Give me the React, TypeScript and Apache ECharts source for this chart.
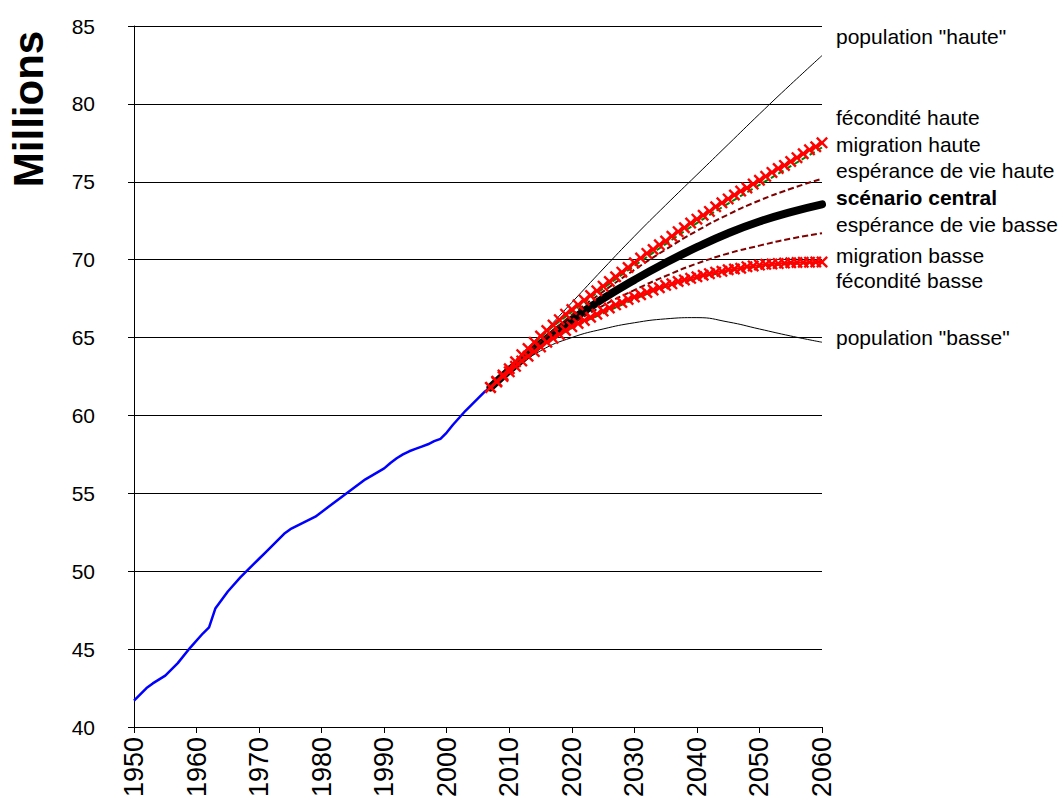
import React, { useEffect, useRef } from "react";
import * as echarts from "echarts";

// Historical population (millions), [year, value]
const historique: [number, number][] = [
  [1950, 41.7], [1952, 42.5], [1953, 42.8], [1955, 43.3], [1957, 44.1], [1959, 45.1],
  [1961, 46.0], [1962, 46.4], [1963, 47.6], [1965, 48.7], [1967, 49.6], [1968, 50.0],
  [1970, 50.8], [1971, 51.2], [1973, 52.0], [1974, 52.4], [1975, 52.7], [1977, 53.1],
  [1979, 53.5], [1981, 54.1], [1984, 55.0], [1987, 55.9], [1990, 56.6], [1991, 56.95],
  [1992, 57.25], [1993, 57.5], [1994, 57.7], [1995, 57.85], [1996, 58.0], [1997, 58.15],
  [1998, 58.35], [1999, 58.5], [2000, 58.9], [2001, 59.4], [2002, 59.85], [2003, 60.3],
  [2004, 60.7], [2005, 61.1], [2006, 61.5], [2007, 61.8],
];

// Projection anchor years (5-year steps)
const anneesProj = [2007, 2010, 2015, 2020, 2025, 2030, 2035, 2040, 2045, 2050, 2055, 2060];
const populationHaute = [61.8, 63.0, 65.1, 67.25, 69.4, 71.5, 73.5, 75.45, 77.4, 79.35, 81.25, 83.1];
const populationBasse = [61.8, 62.75, 64.15, 65.0, 65.55, 65.95, 66.2, 66.28, 66.0, 65.55, 65.1, 64.7];
const scenarioCentral = [61.8, 62.9, 64.6, 66.15, 67.5, 68.7, 69.8, 70.8, 71.7, 72.45, 73.05, 73.55];
const esperanceHaute = [61.8, 62.95, 64.75, 66.45, 67.95, 69.35, 70.65, 71.85, 72.9, 73.8, 74.55, 75.2];
const esperanceBasse = [61.8, 62.85, 64.45, 65.85, 67.05, 68.05, 68.95, 69.75, 70.4, 70.9, 71.35, 71.7];
const feconditeHaute = [61.8, 63.0, 65.0, 66.65, 68.15, 69.6, 71.0, 72.35, 73.6, 74.8, 76.0, 77.2];
const feconditeBasse = [61.8, 62.8, 64.35, 65.6, 66.55, 67.45, 68.25, 68.8, 69.25, 69.55, 69.72, 69.8];

// Yearly projections (markers every year)
const anneesAnnuelles = [
  2007, 2008, 2009, 2010, 2011, 2012, 2013, 2014, 2015, 2016, 2017, 2018, 2019, 2020,
  2021, 2022, 2023, 2024, 2025, 2026, 2027, 2028, 2029, 2030, 2031, 2032, 2033, 2034,
  2035, 2036, 2037, 2038, 2039, 2040, 2041, 2042, 2043, 2044, 2045, 2046, 2047, 2048,
  2049, 2050, 2051, 2052, 2053, 2054, 2055, 2056, 2057, 2058, 2059, 2060,
];
const migrationHaute = [
  61.8, 62.2, 62.6, 63.0, 63.45, 63.9, 64.3, 64.7, 65.1, 65.45, 65.8, 66.15, 66.5, 66.8,
  67.1, 67.4, 67.7, 68.0, 68.3, 68.6, 68.9, 69.2, 69.5, 69.8, 70.1, 70.4, 70.65, 70.95,
  71.2, 71.5, 71.8, 72.05, 72.35, 72.6, 72.85, 73.1, 73.4, 73.65, 73.9, 74.15, 74.4, 74.6,
  74.85, 75.1, 75.35, 75.6, 75.85, 76.05, 76.3, 76.55, 76.8, 77.05, 77.25, 77.5,
];
const migrationBasse = [
  61.8, 62.15, 62.5, 62.8, 63.15, 63.5, 63.8, 64.1, 64.4, 64.7, 64.95, 65.2, 65.45, 65.7,
  65.9, 66.1, 66.3, 66.5, 66.7, 66.9, 67.1, 67.25, 67.45, 67.6, 67.75, 67.9, 68.05, 68.2,
  68.35, 68.45, 68.6, 68.7, 68.8, 68.9, 69.0, 69.1, 69.2, 69.25, 69.35, 69.4, 69.45, 69.55,
  69.6, 69.65, 69.7, 69.72, 69.75, 69.78, 69.8, 69.82, 69.83, 69.84, 69.85, 69.85,
];

// Right-hand labels
const etiquettes = [
  { texte: 'population "haute"', y: 36, gras: false },
  { texte: "fécondité haute", y: 117, gras: false },
  { texte: "migration haute", y: 144, gras: false },
  { texte: "espérance de vie haute", y: 170, gras: false },
  { texte: "scénario central", y: 197, gras: true },
  { texte: "espérance de vie basse", y: 224, gras: false },
  { texte: "migration basse", y: 255, gras: false },
  { texte: "fécondité basse", y: 280, gras: false },
  { texte: 'population "basse"', y: 337, gras: false },
];

const FONT = "Arial, 'Liberation Sans', sans-serif";
const CROSS = "path://M0,1.4L1.4,0L5,3.6L8.6,0L10,1.4L6.4,5L10,8.6L8.6,10L5,6.4L1.4,10L0,8.6L3.6,5Z";

const pairs = (xs: number[], ys: number[]) => xs.map((x, i) => [x, ys[i]]);

export default function App() {
  const ref = useRef<HTMLDivElement>(null);
  useEffect(() => {
    if (!ref.current) return;
    const chart = echarts.init(ref.current, null, { renderer: "svg" });
    const thin = (name: string, data: number[]) => ({
      name,
      type: "line",
      data: pairs(anneesProj, data),
      smooth: 0.5,
      symbol: "none",
      lineStyle: { color: "#000", width: 1 },
      z: 2,
    });
    const dashed = (name: string, data: number[], color: string, z: number) => ({
      name,
      type: "line",
      data: pairs(anneesProj, data),
      smooth: 0.5,
      symbol: "none",
      lineStyle: { color, width: 2, type: [6, 3] },
      z,
    });
    const crosses = (name: string, data: number[]) => ({
      name,
      type: "line",
      data: pairs(anneesAnnuelles, data),
      symbol: CROSS,
      symbolSize: 12,
      showAllSymbol: true,
      itemStyle: { color: "#ff0000" },
      lineStyle: { color: "#ff0000", width: 2 },
      z: 6,
    });
    chart.setOption({
      animation: false,
      grid: { left: 134, right: 241, top: 26, bottom: 76, containLabel: false },
      xAxis: {
        type: "value",
        min: 1950,
        max: 2060,
        interval: 10,
        axisLine: { show: true, lineStyle: { color: "#000", width: 1 } },
        axisTick: { show: true, length: 6, lineStyle: { color: "#000" } },
        splitLine: { show: false },
        axisLabel: {
          rotate: 90,
          margin: 10,
          color: "#000",
          fontSize: 27,
          fontFamily: FONT,
          formatter: (v: number) => String(v),
        },
      },
      yAxis: {
        type: "value",
        min: 40,
        max: 85,
        interval: 5,
        axisLine: { show: true, lineStyle: { color: "#000", width: 1 } },
        axisTick: { show: true, length: 6, lineStyle: { color: "#000" } },
        splitLine: { show: true, lineStyle: { color: "#000", width: 1 } },
        axisLabel: { margin: 39, color: "#000", fontSize: 21, fontFamily: FONT },
      },
      graphic: [
        {
          type: "text",
          x: 28,
          y: 109,
          rotation: Math.PI / 2,
          style: {
            text: "Millions",
            font: `bold 42px ${FONT}`,
            fill: "#000",
            align: "center",
            verticalAlign: "middle",
          },
        },
        ...etiquettes.map((e) => ({
          type: "text",
          x: 836,
          y: e.y,
          style: {
            text: e.texte,
            font: `${e.gras ? "bold " : ""}21px ${FONT}`,
            fill: "#000",
            align: "left",
            verticalAlign: "middle",
          },
        })),
      ],
      series: [
        {
          name: "historique",
          type: "line",
          data: historique,
          symbol: "none",
          lineStyle: { color: "#0000ff", width: 2.5 },
          z: 3,
        },
        thin('population "haute"', populationHaute),
        thin('population "basse"', populationBasse),
        {
          name: "scénario central",
          type: "line",
          data: pairs(anneesProj, scenarioCentral),
          smooth: 0.5,
          symbol: "none",
          lineStyle: { color: "#000", width: 8, cap: "round" },
          z: 3,
        },
        dashed("espérance de vie haute", esperanceHaute, "#800000", 4),
        dashed("espérance de vie basse", esperanceBasse, "#800000", 4),
        dashed("fécondité haute", feconditeHaute, "#008000", 5),
        dashed("fécondité basse", feconditeBasse, "#008000", 5),
        crosses("migration haute", migrationHaute),
        crosses("migration basse", migrationBasse),
      ],
    });
    return () => chart.dispose();
  }, []);
  return (
    <div
      ref={ref}
      style={{ position: "fixed", left: 0, top: 0, width: 1063, height: 803, background: "#fff" }}
    />
  );
}
